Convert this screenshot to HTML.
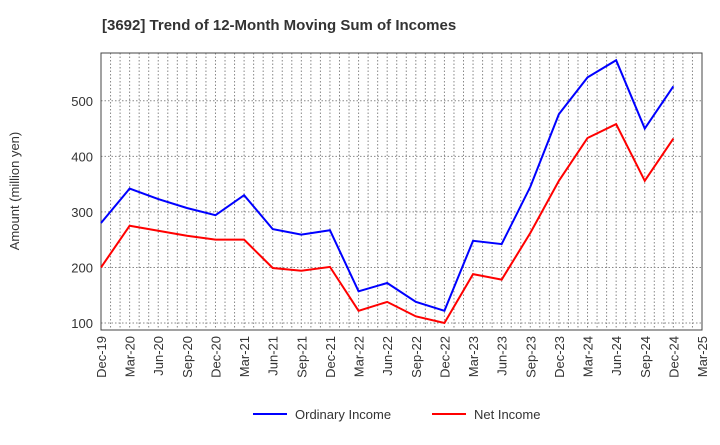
<!DOCTYPE html>
<html><head><meta charset="utf-8"><style>
body{margin:0;background:#fff;font-family:"Liberation Sans",sans-serif}
</style></head><body>
<svg id="chart" width="720" height="440" xmlns="http://www.w3.org/2000/svg" font-family="Liberation Sans, sans-serif">
<text x="102" y="30" font-size="15" font-weight="bold" fill="#333">[3692]  Trend of 12-Month Moving Sum of Incomes</text>
<text transform="translate(19,191) rotate(-90)" text-anchor="middle" font-size="13" fill="#333">Amount (million yen)</text>
<g id="grid"></g><g id="axes"></g><g id="series"></g>
<g>
<line x1="253" y1="414" x2="287" y2="414" stroke="#0000ff" stroke-width="2"/>
<text x="295" y="419" font-size="13" fill="#333">Ordinary Income</text>
<line x1="432" y1="414" x2="466" y2="414" stroke="#ff0000" stroke-width="2"/>
<text x="474" y="419" font-size="13" fill="#333">Net Income</text>
</g>
</svg>
<script>
const categories=["Dec-19","Mar-20","Jun-20","Sep-20","Dec-20","Mar-21","Jun-21","Sep-21","Dec-21","Mar-22","Jun-22","Sep-22","Dec-22","Mar-23","Jun-23","Sep-23","Dec-23","Mar-24","Jun-24","Sep-24","Dec-24","Mar-25"];
const ordinaryIncome=[280,342,323,307,294,330,269,259,267,157,172,138,122,248,242,345,476,542,573,450,526];
const netIncome=[200,275,266,257,250,250,199,194,201,122,138,112,100,188,178,262,356,433,458,356,432];
const yTicks=[100,200,300,400,500];
const L=101,R=702,T=53,B=330,yMin=87.4,yMax=586;
const NS="http://www.w3.org/2000/svg";
const x=i=>L+(R-L)*i/(categories.length-1);
const y=v=>B-(v-yMin)/(yMax-yMin)*(B-T);
function mk(tag,attrs,parent){const e=document.createElementNS(NS,tag);for(const k in attrs)e.setAttribute(k,attrs[k]);parent.appendChild(e);return e;}
const grid=document.getElementById('grid'),axes=document.getElementById('axes'),series=document.getElementById('series');
const months=(categories.length-1)*3;
for(let m=1;m<months;m++){const xx=L+(R-L)*m/months;
const g=mk('line',{x1:xx,x2:xx,y1:T,y2:B,stroke:'#888','stroke-width':1,'stroke-dasharray':'1.5,2'},grid);

}
yTicks.forEach(v=>{const g=mk('line',{x1:L,x2:R,y1:y(v),y2:y(v),stroke:'#888','stroke-width':1,'stroke-dasharray':'1.5,2'},grid);


const t=mk('text',{x:L-8,y:y(v)+5,'text-anchor':'end','font-size':13,fill:'#333'},axes);t.textContent=v;

});
const fr=mk('rect',{x:L,y:T,width:R-L,height:B-T,fill:'none',stroke:'#444','stroke-width':1},axes);


categories.forEach((c,i)=>{const t=mk('text',{transform:`translate(${x(i)+5},${B+6}) rotate(-90)`,'text-anchor':'end','font-size':13,fill:'#333'},axes);t.textContent=c;

});
function line(data,color,name){const p=mk('polyline',{points:data.map((v,i)=>x(i)+','+y(v)).join(' '),fill:'none',stroke:color,'stroke-width':2},series);

}
line(ordinaryIncome,'#0000ff','ordinary-income-line');
line(netIncome,'#ff0000','net-income-line');
</script>
</body></html>
